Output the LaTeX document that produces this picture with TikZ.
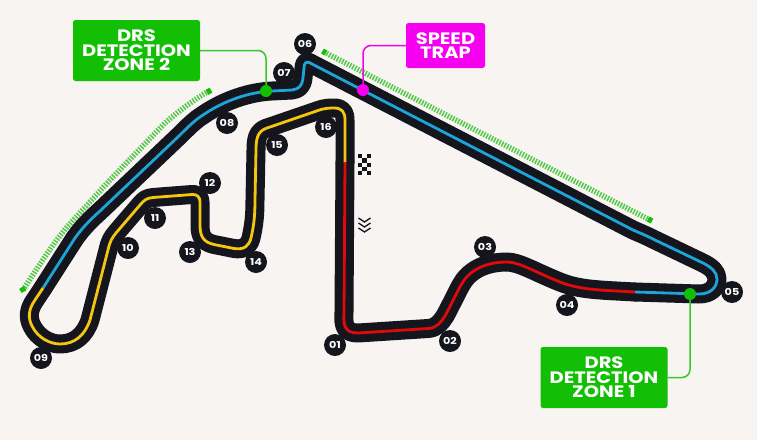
\documentclass[tikz,border=0pt]{standalone}
\usepackage{fontspec}
\setmainfont{Poppins}
\newfontfamily\wideface[FakeStretch=1.18]{Poppins}
\definecolor{pagebg}{HTML}{F7F4F1}
\definecolor{casing}{HTML}{15151E}
\definecolor{trackred}{HTML}{E00A0A}
\definecolor{trackblue}{HTML}{1CA5D6}
\definecolor{trackyellow}{HTML}{F5C60F}
\definecolor{drsgreen}{HTML}{12BF05}
\definecolor{hatchgreen}{HTML}{55C84B}
\definecolor{trapmag}{HTML}{F600F0}
\def\redpath{(345,162) -- (344,312) .. controls (343,326) and (345,333) .. (358,333) -- (428,328.5) .. controls (437,328) and (441,322) .. (445,316) .. controls (452,303) and (456,294) .. (461,285) .. controls (468,272) and (483,262) .. (507,262) .. controls (519,262) and (535,272) .. (560,282) .. controls (580,290) and (600,290) .. (635,292)}
\def\bluepath{(635,292) -- (699,294) .. controls (711,294) and (717,287) .. (717,279) .. controls (717,272) and (711,267) .. (703,263) -- (655,240) .. controls (645,235) and (640,233) .. (633,230) -- (312,64) .. controls (306,60) and (304,63) .. (304,68) -- (303,78) .. controls (302,86) and (299,89) .. (292,90) -- (272,91) .. controls (250,92) and (225,100) .. (203,115) .. controls (195,120) and (188,127) .. (180,135) -- (100,211) .. controls (90,220) and (83,227) .. (75,238) -- (43,288)}
\def\yellowpath{(43,288) -- (35,300) .. controls (28,310) and (28,318) .. (32,326) .. controls (38,338) and (50,344) .. (60,344) .. controls (75,344) and (85,335) .. (90,320) -- (108,250) .. controls (110,241) and (112,238) .. (116,233) -- (140,205) .. controls (144,200) and (147,198) .. (153,197.5) -- (192,194.5) .. controls (197,194) and (200,197) .. (200,202) -- (200,225) .. controls (200,236) and (203,242) .. (214,244.5) -- (234,248.5) .. controls (244,250) and (249,246) .. (251,238) .. controls (254,225) and (255,215) .. (255,200) -- (256,150) .. controls (256,135) and (259,130) .. (270,127) -- (318,110.5) .. controls (325,108) and (330,108) .. (334,108) .. controls (342,108) and (345,112) .. (345,120) -- (345,162)}
\tikzset{
  x=1pt,y=-1pt,
  casingline/.style={line width=19pt,color=casing,line join=round,line cap=round},
  colourline/.style={line width=2.8pt,line join=round},
  hatch/.style={line width=5.5pt,color=hatchgreen,dash pattern=on 1.5pt off 1.4pt},
  hatchend/.style={line width=5.5pt,color=drsgreen,line cap=butt},
  badge/.style={circle,fill=casing,minimum size=22pt,inner sep=0pt,text=white,font=\wideface\bfseries\fontsize{9.5}{9.5}\selectfont},
  callout/.style={rounded corners=2.5pt,text=white,align=center,inner sep=0pt,font=\wideface\bfseries\fontsize{16.5}{14.5}\selectfont},
  drsbox/.style={callout,fill=drsgreen,minimum width=127pt,minimum height=61pt},
  trapbox/.style={callout,fill=trapmag,minimum width=79pt,minimum height=45pt},
  linkgreen/.style={line width=1.5pt,color=drsgreen!85!white,rounded corners=8pt},
  linkmag/.style={line width=1.5pt,color=trapmag,rounded corners=8pt},
  dotgreen/.style={circle,fill=drsgreen,minimum size=12pt,inner sep=0pt},
  dotmag/.style={circle,fill=trapmag,minimum size=12pt,inner sep=0pt},
  chev/.style={line width=1.3pt,color=casing},
}
\begin{document}
\begin{tikzpicture}
\useasboundingbox (0,0) rectangle (757,440);
\fill[pagebg] (0,0) rectangle (757,440);
% DRS hatching
\draw[hatch] (23,290) .. controls (36,270) and (52,245) .. (67,227) -- (110,180) -- (165,123) .. controls (180,110) and (195,99) .. (209,91);
\draw[hatch] (324,52) -- (650,220);
\draw[hatchend] (21.5,287.5) -- (24,291.5);
\draw[hatchend] (207,92.5) -- (211,90);
\draw[hatchend] (322.5,51) -- (326,53);
\draw[hatchend] (648,219) -- (652,221);
% track casing
\draw[casingline] \redpath;
\draw[casingline] \bluepath;
\draw[casingline] \yellowpath;
% coloured sectors
\draw[colourline,trackred] \redpath;
\draw[colourline,trackblue] \bluepath;
\draw[colourline,trackyellow] \yellowpath;
% corner badges
\node[badge] (t01) at (335,345) {01};
\node[badge] (t02) at (450,341) {02};
\node[badge] (t03) at (485,247) {03};
\node[badge] (t04) at (567,305) {04};
\node[badge] (t05) at (732,292) {05};
\node[badge] (t06) at (305,44) {06};
\node[badge] (t07) at (284,73) {07};
\node[badge] (t08) at (227,123) {08};
\node[badge] (t09) at (41,358) {09};
\node[badge] (t10) at (128,248) {10};
\node[badge] (t11) at (155,218) {11};
\node[badge] (t12) at (210,183) {12};
\node[badge] (t13) at (190,252) {13};
\node[badge] (t14) at (256,262) {14};
\node[badge] (t15) at (277,145) {15};
\node[badge] (t16) at (326,127) {16};
% callouts
\node[dotgreen] (dotb) at (266,91) {};
\node[dotmag] (dotc) at (363,90) {};
\node[dotgreen] (dota) at (690,294) {};
\node[drsbox] (zone2) at (136.5,50.5) {DRS\\DETECTION\\ZONE 2};
\node[trapbox] (trap) at (445.5,45.5) {SPEED\\TRAP};
\node[drsbox] (zone1) at (604,377.5) {DRS\\DETECTION\\ZONE 1};
\draw[linkgreen] (zone2.east) -| (dotb.north);
\draw[linkmag] (trap.west) -| (dotc.north);
\draw[linkgreen] (zone1.east) -| (dota.south);
% chequered flag
\foreach \c/\r in {0/0,2/0,1/1,0/2,2/2,1/3,0/4,2/4}
  \fill[casing] ({358+\c*4.4},{154+\r*4.3}) rectangle ++(4.3,4.2);
% direction chevrons
\foreach \o in {0,5,10}
  \draw[chev] (358.5,{218+\o}) -- (364.5,{222+\o}) -- (370.5,{218+\o});
\end{tikzpicture}
\end{document}
